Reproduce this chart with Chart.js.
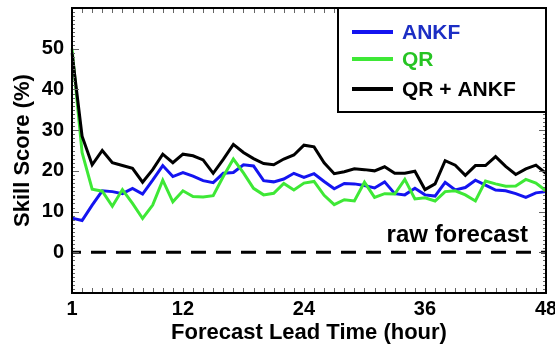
<!DOCTYPE html>
<html>
<head>
<meta charset="utf-8">
<script src="https://cdn.jsdelivr.net/npm/chart.js@4"></script>
<style>
  html, body { margin: 0; padding: 0; background: #fff; }
  #wrap { width: 555px; height: 346px; }
</style>
</head>
<body>
<div id="wrap"><canvas id="chart" width="555" height="346"></canvas></div>
<script>
const leadHours = [1, 2, 3, 4, 5, 6, 7, 8, 9, 10, 11, 12, 13, 14, 15, 16, 17, 18, 19, 20, 21, 22, 23, 24,
  25, 26, 27, 28, 29, 30, 31, 32, 33, 34, 35, 36, 37, 38, 39, 40, 41, 42, 43, 44, 45, 46, 47, 48];
const xTickLabels = [1, 12, 24, 36, 48];
const yTickLabels = [0, 10, 20, 30, 40, 50];

const ankf = [8.4, 7.8, 11.6, 15.1, 14.9, 14.4, 15.7, 14.3, 17.7, 21.3, 18.6, 19.6, 18.7, 17.6, 17.1, 19.4,
  19.6, 21.5, 21.2, 17.6, 17.3, 18.0, 19.4, 18.4, 19.3, 17.4, 15.6, 16.9, 16.8, 16.4, 15.8, 17.3,
  14.4, 14.1, 15.7, 14.1, 13.8, 17.2, 15.3, 15.9, 17.7, 16.5, 15.3, 15.1, 14.4, 13.5, 14.6, 14.9];
const qr = [50.0, 24.5, 15.5, 15.0, 11.3, 15.4, 12.0, 8.3, 11.6, 17.7, 12.4, 15.1, 13.7, 13.6, 13.9, 18.6,
  22.9, 19.5, 15.7, 14.1, 14.5, 16.9, 15.3, 17.0, 17.4, 14.0, 11.7, 12.9, 12.6, 17.2, 13.5, 14.4,
  14.3, 17.9, 13.1, 13.4, 12.6, 14.9, 15.1, 14.1, 12.6, 17.5, 16.8, 16.2, 16.3, 17.9, 17.0, 15.1];
const qrAnkf = [49.0, 28.5, 21.5, 25.0, 22.0, 21.3, 20.6, 17.2, 20.3, 24.1, 22.0, 24.1, 23.7, 22.7, 19.4, 22.8,
  26.5, 24.5, 23.0, 21.8, 21.5, 22.9, 23.9, 26.3, 25.9, 22.0, 19.3, 19.8, 20.5, 20.3, 20.0, 21.0,
  19.4, 19.4, 19.9, 15.4, 16.8, 22.5, 21.4, 18.9, 21.3, 21.3, 23.5, 21.1, 19.1, 20.5, 21.4, 19.4];
const rawForecast = 0;

const FONT = "'Liberation Sans', Arial, sans-serif";

// inward ticks on all four sides + frame + dashed raw forecast line
const framePlugin = {
  id: "frame",
  afterDatasetsDraw(chart) {
    const { ctx, chartArea: a, scales } = chart;
    const x = scales.x, y = scales.y;
    ctx.save();
    ctx.strokeStyle = "#000";

    // dashed zero line
    let y0 = y.getPixelForValue(rawForecast);
    ctx.lineWidth = 3;
    ctx.setLineDash([15, 10]);
    ctx.lineDashOffset = 6;
    ctx.beginPath();
    ctx.moveTo(a.left, y0);
    ctx.lineTo(a.right, y0);
    ctx.stroke();
    ctx.setLineDash([]);

    ctx.fillStyle = "#000";
    ctx.font = "bold 24px " + FONT;
    ctx.textAlign = "right";
    ctx.textBaseline = "alphabetic";
    ctx.fillText("raw forecast", a.right - 18, y0 - 10);

    ctx.lineWidth = 1;
    ctx.strokeStyle = "#666";
    leadHours.forEach((h, i) => {
      let px = Math.round(x.getPixelForValue(i)) + 0.5;
      ctx.beginPath();
      ctx.moveTo(px, a.bottom); ctx.lineTo(px, a.bottom - 5);
      ctx.moveTo(px, a.top); ctx.lineTo(px, a.top + 5);
      ctx.stroke();
    });
    for (let v = y.min; v <= y.max; v++) {
      let py = Math.round(y.getPixelForValue(v)) + 0.5;
      let len = v % 10 === 0 ? 7 : 3;
      ctx.beginPath();
      ctx.moveTo(a.left, py); ctx.lineTo(a.left + len, py);
      ctx.moveTo(a.right, py); ctx.lineTo(a.right - len, py);
      ctx.stroke();
    }

    ctx.strokeStyle = "#000";
    ctx.lineWidth = 2;
    ctx.strokeRect(a.left, a.top, a.right - a.left, a.bottom - a.top);
    ctx.restore();
  }
};

const legendPlugin = {
  id: "boxLegend",
  afterDraw(chart) {
    const { ctx, chartArea: a } = chart;
    const w = 208, h = 104;
    const left = a.right - w, top = a.top;
    const rows = [24, 51, 81];
    ctx.save();
    ctx.fillStyle = "#fff";
    ctx.fillRect(left, top, w, h);
    ctx.strokeStyle = "#000";
    ctx.lineWidth = 2;
    ctx.strokeRect(left, top, w, h);
    ctx.font = "bold 21px " + FONT;
    ctx.textBaseline = "middle";
    ctx.textAlign = "left";
    chart.data.datasets.forEach((ds, i) => {
      let ry = top + rows[i];
      ctx.strokeStyle = ds.borderColor;
      ctx.lineWidth = 4;
      ctx.beginPath();
      ctx.moveTo(left + 14, ry);
      ctx.lineTo(left + 55, ry);
      ctx.stroke();
      ctx.fillStyle = ds.textColor;
      ctx.fillText(ds.label, left + 64, ry + 1);
    });
    ctx.restore();
  }
};

new Chart(document.getElementById("chart"), {
  type: "line",
  data: {
    labels: leadHours,
    datasets: [
      { label: "ANKF", data: ankf, borderColor: "#1414f0", textColor: "#1c2ec4", order: 3 },
      { label: "QR", data: qr, borderColor: "#3ee836", textColor: "#26c423", order: 2 },
      { label: "QR + ANKF", data: qrAnkf, borderColor: "#000000", textColor: "#000000", order: 1 }
    ].map((d) => Object.assign(d, { borderWidth: 3, pointRadius: 0, tension: 0, fill: false }))
  },
  options: {
    responsive: false,
    animation: false,
    layout: { padding: { top: 8, right: 9, left: 0, bottom: 0 } },
    plugins: { legend: { display: false }, tooltip: { enabled: false } },
    scales: {
      x: {
        type: "category",
        offset: false,
        grid: { display: false, drawTicks: false },
        border: { display: false },
        afterFit: (s) => { s.height = 53; s.paddingLeft = 0; s.paddingRight = 0; },
        ticks: {
          autoSkip: false,
          maxRotation: 0,
          padding: 4,
          color: "#000",
          font: { family: FONT, size: 20, weight: "bold" },
          callback: function (v, i) {
            let h = leadHours[i];
            return xTickLabels.includes(h) ? String(h) : "";
          }
        },
        title: {
          display: true,
          text: "Forecast Lead Time (hour)",
          color: "#000",
          padding: { top: 0, bottom: 0 },
          font: { family: FONT, size: 22, weight: "bold" }
        }
      },
      y: {
        min: -10,
        max: 60,
        grid: { display: false, drawTicks: false },
        border: { display: false },
        afterFit: (s) => { s.width = 72; s.paddingTop = 0; s.paddingBottom = 0; },
        ticks: {
          stepSize: 10,
          padding: 8,
          color: "#000",
          font: { family: FONT, size: 20, weight: "bold" },
          callback: (v) => (yTickLabels.includes(v) ? String(v) : "")
        },
        title: {
          display: true,
          text: "Skill Score (%)",
          color: "#000",
          padding: { top: 10, bottom: 0 },
          font: { family: FONT, size: 22, weight: "bold" }
        }
      }
    }
  },
  plugins: [framePlugin, legendPlugin]
});
</script>
</body>
</html>
